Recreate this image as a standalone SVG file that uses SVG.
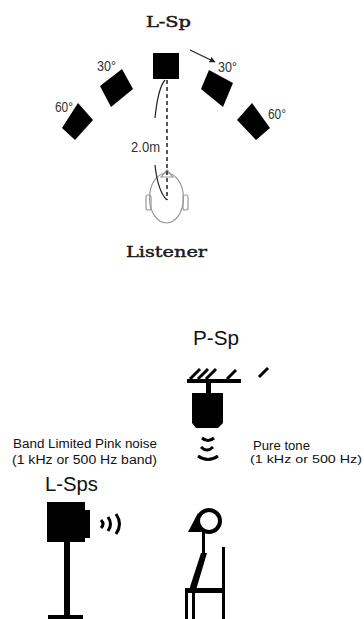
<svg xmlns="http://www.w3.org/2000/svg" width="364" height="619" viewBox="0 0 364 619">
  <defs>
    <marker id="arr" viewBox="0 0 10 10" refX="9" refY="5" markerWidth="5" markerHeight="5" orient="auto">
      <path d="M0,0 L10,5 L0,10 z" fill="#222"/>
    </marker>
    <style>
      .serif { font-family: "DejaVu Serif", "Liberation Serif", serif; fill: #1a1a1a; stroke: #1a1a1a; stroke-width: 0.45; }
      .deg { font-family: "Liberation Sans", Arial, sans-serif; font-size: 14px; fill: #333; }
      .sans { font-family: "Liberation Sans", Arial, sans-serif; fill: #111; }
      .spk { fill: #000; }
      .thin { fill: none; stroke: #222; stroke-width: 1.2; }
      .headline { fill: none; stroke: #9a9a9a; stroke-width: 1.2; }
      .thick { fill: none; stroke: #000; stroke-linecap: butt; }
    </style>
  </defs>
  <rect width="364" height="619" fill="#fff"/>

  <!-- Top view: loudspeaker layout around the listener -->
  <text class="serif" x="146" y="27" font-size="14" textLength="45" lengthAdjust="spacingAndGlyphs">L-Sp</text>

  <g id="sp-center"><rect class="spk" x="153" y="53" width="26" height="26"/></g>
  <g id="sp-l30"><polygon class="spk" points="122,69 133,89 111,107 100,86"/></g>
  <g id="sp-r30"><polygon class="spk" points="209,70 233,83 223,107 201,89"/></g>
  <g id="sp-l60"><polygon class="spk" points="78,103 93,120 75,140 62,128"/></g>
  <g id="sp-r60"><polygon class="spk" points="252,103 270,128 256,140 237,120"/></g>

  <text class="deg" x="97" y="71" textLength="19" lengthAdjust="spacingAndGlyphs">30°</text>
  <text class="deg" x="218" y="72" textLength="19" lengthAdjust="spacingAndGlyphs">30°</text>
  <text class="deg" x="55" y="112" textLength="18" lengthAdjust="spacingAndGlyphs">60°</text>
  <text class="deg" x="268" y="119" textLength="18" lengthAdjust="spacingAndGlyphs">60°</text>
  <text class="deg" x="131" y="152" textLength="29" lengthAdjust="spacingAndGlyphs">2.0m</text>

  <g id="listener-head">
    <rect class="headline" x="146" y="195" width="5" height="15" rx="2"/>
    <rect class="headline" x="183" y="195" width="5" height="15" rx="2"/>
    <ellipse class="headline" cx="166.5" cy="198" rx="17" ry="25"/>
    <polygon class="headline" points="167,170 161,177 173,177"/>
  </g>

  <g id="connectors">
    <line class="thin" x1="190" y1="50" x2="215" y2="62" marker-end="url(#arr)"/>
    <line x1="167" y1="80" x2="167" y2="200" stroke="#222" stroke-width="1.5" stroke-dasharray="4,3"/>
    <path class="thin" d="M165,80 Q158,88 155,118"/>
    <path class="thin" d="M155,165 Q158,192 167,200"/>
  </g>

  <text class="serif" x="126" y="257" font-size="15" textLength="81" lengthAdjust="spacingAndGlyphs">Listener</text>

  <!-- Side view: test setup -->
  <text class="sans" x="193" y="345" font-size="20" textLength="46" lengthAdjust="spacingAndGlyphs">P-Sp</text>

  <g id="p-sp">
    <rect class="spk" x="187" y="379" width="54" height="4"/>
    <g stroke="#000" stroke-width="3">
      <line x1="190" y1="379" x2="200" y2="369"/>
      <line x1="198" y1="379" x2="208" y2="369"/>
      <line x1="206" y1="379" x2="216" y2="369"/>
      <line x1="227" y1="379" x2="236" y2="370"/>
      <line x1="259" y1="377" x2="268" y2="368"/>
    </g>
    <rect class="spk" x="206" y="383" width="5" height="11"/>
    <polygon class="spk" points="192,393 223,393 223,423 218,428 196,428 192,423"/>
    <g class="thick" stroke-width="3">
      <path d="M202,438 Q208,443 214,438"/>
      <path d="M201,447 Q207,453 213,447"/>
      <path d="M198,456 Q208,463 218,456"/>
    </g>
  </g>

  <text class="sans" x="253" y="450" font-size="12.5" textLength="57" lengthAdjust="spacingAndGlyphs">Pure tone</text>
  <text class="sans" x="250" y="463" font-size="11" textLength="112" lengthAdjust="spacingAndGlyphs">(1 kHz or 500 Hz)</text>

  <text class="sans" x="13" y="448" font-size="12.5" textLength="144" lengthAdjust="spacingAndGlyphs">Band Limited Pink  noise</text>
  <text class="sans" x="12" y="464" font-size="12.5" textLength="145" lengthAdjust="spacingAndGlyphs">(1 kHz or 500 Hz band)</text>

  <text class="sans" x="45" y="491" font-size="20" textLength="53" lengthAdjust="spacingAndGlyphs">L-Sps</text>

  <g id="l-sps">
    <rect class="spk" x="47" y="502" width="38" height="40"/>
    <rect class="spk" x="84" y="510" width="6" height="28"/>
    <rect class="spk" x="64" y="541" width="6" height="76"/>
    <rect class="spk" x="48" y="615" width="35" height="4"/>
    <g class="thick" stroke-width="3">
      <path d="M101,520 Q105,524 101,528"/>
      <path d="M108,517 Q113,524 108,531"/>
      <path d="M116,514 Q123,524 116,534"/>
    </g>
  </g>

  <g id="listener-seated">
    <circle cx="209" cy="521" r="11" fill="none" stroke="#000" stroke-width="4"/>
    <polygon class="spk" points="198,513 188,532 201,532"/>
    <rect class="spk" x="202" y="532" width="3" height="22"/>
    <polygon class="spk" points="201,553 207,553 196,590 189,590"/>
    <rect class="spk" x="185" y="588" width="40" height="5"/>
    <rect class="spk" x="222" y="547" width="3" height="72"/>
    <rect class="spk" x="185" y="590" width="3" height="29"/>
    <rect class="spk" x="192" y="590" width="3" height="29"/>
  </g>
</svg>
